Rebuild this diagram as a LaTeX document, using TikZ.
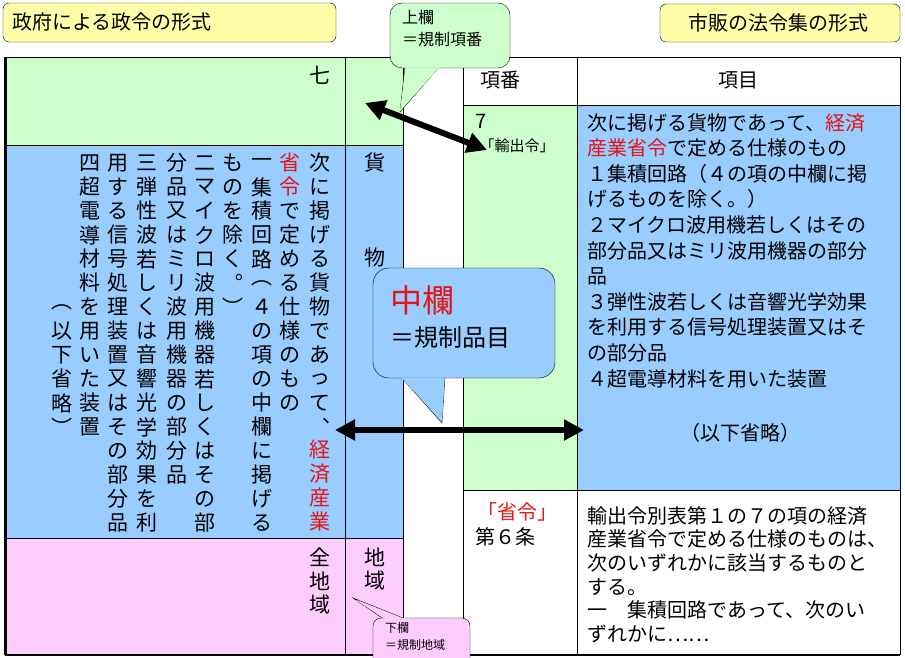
\documentclass[tikz,border=0pt]{standalone}
\usepackage{fontspec}
\setmainfont{Noto Sans CJK JP}
\usetikzlibrary{arrows.meta, positioning}

\definecolor{cellgreen}{RGB}{204,255,204}
\definecolor{cellblue}{RGB}{153,204,255}
\definecolor{cellpink}{RGB}{255,204,255}
\definecolor{titleyellow}{RGB}{255,255,170}
\definecolor{hlred}{RGB}{230,20,20}

% one vertical column of characters, one node per character
\newcount\vidx
\def\vend{\vend}
\newcommand\vcol[4][black]{\def\vx{#2}\def\vy{#3}\def\vclr{#1}\vidx=0 \vscan#4\vend}
\def\vscan#1{\ifx#1\vend\else
  \node[vch,text=\vclr] at (\vx,\vy+\the\vidx*24) {#1};\global\advance\vidx by 1
  \expandafter\vscan\fi}

\tikzset{
  vch/.style={inner sep=0pt, font=\fontsize{21}{21}\selectfont},
  cell/.style={draw=black, line width=0.8pt},
  title/.style={draw=black, fill=titleyellow, rounded corners=6pt, inner sep=0pt},
  hdr/.style={inner sep=0pt, font=\fontsize{20}{20}\selectfont},
  body/.style={inner sep=0pt, align=left, anchor=north west, font=\fontsize{20}{25.6}\selectfont},
  dbl/.style={line width=6pt, {Triangle[length=20pt,width=20pt]}-{Triangle[length=20pt,width=20pt]}},
}

\begin{document}
\begin{tikzpicture}[x=1pt, y=-1pt]
  \useasboundingbox (0,0) rectangle (905,658);

  % titles
  \draw[title] (3,3) rectangle (336,42);
  \node[hdr, anchor=west] (ltitle) at (12,22) {政府による政令の形式};
  \draw[title] (660,4) rectangle (900,42);
  \node[hdr] (rtitle) at (778,23) {市販の法令集の形式};

  % left table
  \fill[cellgreen] (5,57) rectangle (403,145);
  \fill[cellblue] (5,145) rectangle (403,538);
  \fill[cellpink] (5,538) rectangle (403,655);
  \draw[cell] (5,57) -- (403,57) -- (403,655);
  \draw[cell] (5,145) -- (403,145);
  \draw[cell] (5,538) -- (403,538);
  \draw[cell] (345,57) -- (345,655);

  % right table
  \fill[cellgreen] (463,105) rectangle (577,490);
  \fill[cellblue] (577,105) rectangle (900,490);
  \draw[cell] (463,655) -- (463,57) -- (900,57) -- (900,655);
  \draw[cell] (463,105) -- (900,105);
  \draw[cell] (463,490) -- (900,490);
  \draw[cell] (577,57) -- (577,655);

  % outer thick lines
  \draw[line width=3pt] (5,57) -- (5,655);
  \draw[line width=2pt] (5,655) -- (900,655);

  % left table: vertical text
  \node[vch] (nana) at (320,75) {七};
  \node[vch] (ka) at (375,163) {貨};
  \node[vch] (butsu) at (375,258) {物};
  \vcol{320}{163}{次に掲げる貨物であって︑}
  \vcol[hlred]{320}{450}{経済産業}
  \vcol[hlred]{290}{163}{省令}
  \vcol{290}{211}{で定める仕様のもの}
  \vcol{262}{163}{一集積回路︵４の項の中欄に掲げる}
  \vcol{233}{163}{ものを除く︒︶}
  \vcol{205}{163}{二マイクロ波用機器若しくはその部}
  \vcol{177}{163}{分品又はミリ波用機器の部分品}
  \vcol{147}{163}{三弾性波若しくは音響光学効果を利}
  \vcol{118}{163}{用する信号処理装置又はその部分品}
  \vcol{90}{163}{四超電導材料を用いた装置}
  \vcol{62}{307}{︵以下省略︶}
  \vcol{320}{557}{全地域}
  \vcol{375}{557}{地域}

  % right table: text
  \node[hdr] (kouban) at (500,80) {項番};
  \node[hdr] (koumoku) at (738,80) {項目};
  \node[hdr, anchor=west] (seven) at (475,121) {7};
  \node[inner sep=0pt, font=\fontsize{15}{15}\selectfont] (yushutsu) at (517,146) {「輸出令」};
  \node[body] (goods) at (587,113) {次に掲げる貨物であって、\textcolor{hlred}{経済}\\
    \textcolor{hlred}{産業省令}で定める仕様のもの\\
    １集積回路（４の項の中欄に掲\\
    げるものを除く。）\\
    ２マイクロ波用機若しくはその\\
    部分品又はミリ波用機器の部分\\
    品\\
    ３弾性波若しくは音響光学効果\\
    を利用する信号処理装置又はそ\\
    の部分品\\
    ４超電導材料を用いた装置};
  \node[hdr] (ika) at (740,433) {（以下省略）};
  \node[hdr, text=hlred] (shourei) at (517,512) {「省令」};
  \node[hdr, anchor=west] (dai6) at (475,537) {第６条};
  \node[body, font=\fontsize{20}{23.7}\selectfont] (art6) at (587,506) {輸出令別表第１の７の項の経済\\
    産業省令で定める仕様のものは、\\
    次のいずれかに該当するものと\\
    する。\\
    一　集積回路であって、次のい\\
    ずれかに……};

  % callout: upper column
  \draw[fill=cellgreen] (405,66) -- (400,112) -- (440,66);
  \draw[fill=cellgreen, rounded corners=12pt] (390,3) rectangle (510,68);
  \fill[cellgreen] (406,67.5) -- (400,111) -- (439,67.5) -- cycle;
  \node[inner sep=0pt, align=left, anchor=north west, font=\fontsize{16}{22}\selectfont] (jouran) at (402,10) {上欄\\＝規制項番};

  % callout: middle column
  \draw[fill=cellblue] (400,376) -- (442,423) -- (445,376);
  \draw[fill=cellblue, rounded corners=16pt] (373,268) rectangle (555,378);
  \fill[cellblue] (401,377.5) -- (442,421) -- (444.5,377.5) -- cycle;
  \node[inner sep=0pt, text=hlred, anchor=west, font=\fontsize{32}{32}\selectfont] (chuuran) at (390,300) {中欄};
  \node[inner sep=0pt, anchor=west, font=\fontsize{24}{24}\selectfont] (hinmoku) at (390,337) {＝規制品目};

  % callout: lower column
  \draw[fill=cellpink] (385,620) -- (353,598) -- (408,620);
  \draw[fill=cellpink, rounded corners=8pt] (373,618) rectangle (470,672);
  \fill[cellpink] (386,619.5) -- (356,600) -- (406,619.5) -- cycle;
  \node[inner sep=0pt, align=left, anchor=north west, font=\fontsize{12}{17}\selectfont] (geran) at (385,622) {下欄\\＝規制地域};

  % arrows
  \coordinate (upL) at (365,103);
  \coordinate (upR) at (487,150);
  \coordinate (midL) at (335,430);
  \coordinate (midR) at (584,430);
  \draw[dbl] (upL) -- (upR);
  \draw[dbl] (midL) -- (midR);
\end{tikzpicture}
\end{document}
